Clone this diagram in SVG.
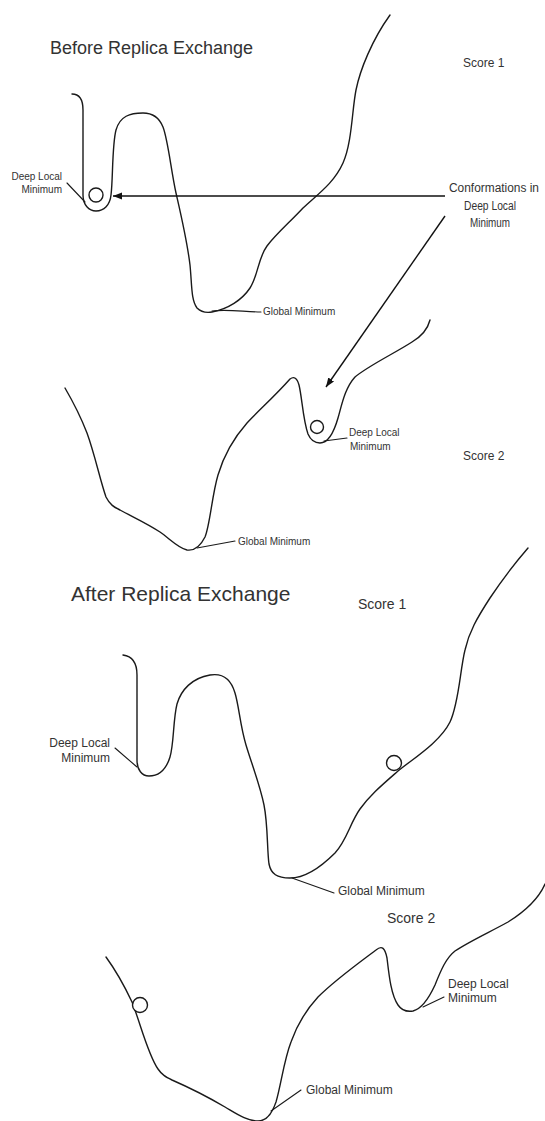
<svg xmlns="http://www.w3.org/2000/svg" width="545" height="1121" viewBox="0 0 545 1121">
<style>
  .curve { fill: none; stroke: #1a1a1a; stroke-width: 1.4; stroke-linecap: round; stroke-linejoin: round; }
  .lead { fill: none; stroke: #1a1a1a; stroke-width: 1.1; stroke-linecap: round; }
  .ball { fill: #fff; stroke: #1a1a1a; stroke-width: 1.4; }
  .conn { fill: none; stroke: #111; stroke-width: 1.4; }
  text { font-family: "Liberation Sans", Arial, sans-serif; fill: #333; }
  .title1 { font-size: 18px; }
  .title2 { font-size: 21px; }
  .s12 { font-size: 12px; }
  .s14 { font-size: 14px; }
  .s10 { font-size: 10px; }
</style>
<defs>
  <marker id="head" markerUnits="userSpaceOnUse" markerWidth="10" markerHeight="8" refX="9" refY="3.5" orient="auto">
    <path d="M0,0 L9,3.5 L0,7 z" fill="#111"/>
  </marker>
</defs>
<rect width="545" height="1121" fill="#fff"/>

<g id="before-title"><text class="title1" x="50" y="54">Before Replica Exchange</text></g>

<g id="before-score1">
  <path class="curve" d="M72,94 C79,94 83,99 83,110 L83,195 C83,205 89,211 96,211 C104,211 110,205 111,195 C113,180 112,145 116,130 C120,116 130,113 143,113 C153,113 159,117 163,127 C168,140 171,170 176,193 C181,215 187,240 190,265 C192,285 191,300 197,308 C201,312 206,313 212,312 C228,309 242,300 250,288 C258,276 258,258 267,246 C276,234 290,222 303,208 C318,194 334,183 343,163 C352,143 352,110 356,90 C360,70 372,40 390,15"/>
  <circle class="ball" cx="96" cy="195" r="7"/>
  <text class="s12" x="463" y="67">Score 1</text>
</g>

<g id="before-score1-deep-local">
  <line class="lead" x1="67" y1="183" x2="85" y2="202"/>
  <text class="s10" x="62" y="180" text-anchor="end">Deep Local</text>
  <text class="s10" x="62" y="193" text-anchor="end">Minimum</text>
</g>

<g id="before-score1-global">
  <path class="lead" d="M212,311 C228,309 245,312 261,312"/>
  <text class="s10" x="263" y="315">Global Minimum</text>
</g>

<g id="conformations-label">
  <text class="s12" x="494" y="192" text-anchor="middle" textLength="90" lengthAdjust="spacingAndGlyphs">Conformations in</text>
  <text class="s12" x="490" y="210" text-anchor="middle" textLength="52" lengthAdjust="spacingAndGlyphs">Deep Local</text>
  <text class="s12" x="490" y="227" text-anchor="middle" textLength="40" lengthAdjust="spacingAndGlyphs">Minimum</text>
</g>

<g id="before-score2">
  <path class="curve" d="M65,388 C72,400 80,415 87,433 C95,455 100,480 106,497 C110,505 114,507 120,510 C135,518 148,524 160,532 C170,539 178,548 187,550 C194,551 200,547 205,537 C210,525 212,495 218,475 C223,458 232,440 247,423 C258,411 275,396 290,379 C294,376 297,378 299,385 C302,397 303,420 308,434 C311,441 315,443 320,443 C328,443 334,432 338,418 C342,404 345,388 355,377 C368,366 395,353 412,342 C422,336 428,328 430,320"/>
  <circle class="ball" cx="317" cy="427" r="6.5"/>
  <text class="s12" x="463" y="460">Score 2</text>
</g>

<g id="before-score2-deep-local">
  <line class="lead" x1="324" y1="441" x2="347" y2="438"/>
  <text class="s10" x="349" y="436">Deep Local</text>
  <text class="s10" x="350" y="450">Minimum</text>
</g>

<g id="before-score2-global">
  <line class="lead" x1="197" y1="548" x2="235" y2="541"/>
  <text class="s10" x="238" y="545">Global Minimum</text>
</g>

<g id="after-title"><text class="title2" x="71" y="601">After Replica Exchange</text></g>

<g id="after-score1">
  <path class="curve" d="M123,655 C131,656 137,662 137,675 L137,760 C137,770 142,776 149,776 C158,776 166,770 170,757 C174,744 173,720 177,704 C181,690 192,678 210,675 C222,673 231,679 235,693 C239,706 240,725 246,745 C252,765 260,785 264,805 C268,825 267,850 269,864 C271,874 277,878 290,878 C305,878 322,866 335,853 C347,840 350,823 360,809 C370,795 382,785 398,771 C414,758 440,742 450,722 C459,703 460,670 465,650 C469,632 477,618 490,598 C502,580 515,563 528,548"/>
  <circle class="ball" cx="394" cy="763" r="7.5"/>
  <text class="s14" x="358" y="609">Score 1</text>
</g>

<g id="after-score1-deep-local">
  <line class="lead" x1="115" y1="748" x2="137" y2="767"/>
  <text class="s12" x="110" y="747" text-anchor="end">Deep Local</text>
  <text class="s12" x="110" y="762" text-anchor="end">Minimum</text>
</g>

<g id="after-score1-global">
  <line class="lead" x1="292" y1="878" x2="334" y2="893"/>
  <text class="s12" x="338" y="895">Global Minimum</text>
</g>

<g id="after-score2">
  <path class="curve" d="M106,957 C114,968 124,985 132,1002 C140,1022 148,1055 158,1069 C162,1075 166,1077 172,1080 C188,1087 208,1097 225,1107 C237,1114 247,1121 258,1121 C266,1121 272,1114 276,1102 C281,1085 284,1060 291,1042 C297,1025 306,1010 318,997 C335,980 360,962 376,950 C382,945 385,948 387,958 C389,975 391,995 398,1005 C402,1011 407,1012 413,1011 C421,1009 429,998 435,985 C441,970 446,958 455,951 C470,941 490,932 508,922 C524,912 538,900 545,884"/>
  <circle class="ball" cx="140" cy="1005" r="7.5"/>
  <text class="s14" x="387" y="923">Score 2</text>
</g>

<g id="after-score2-deep-local">
  <line class="lead" x1="423" y1="1007" x2="444" y2="997"/>
  <text class="s12" x="448" y="988">Deep Local</text>
  <text class="s12" x="448" y="1002">Minimum</text>
</g>

<g id="after-score2-global">
  <line class="lead" x1="271" y1="1111" x2="301" y2="1090"/>
  <text class="s12" x="306" y="1094">Global Minimum</text>
</g>

<g id="connectors">
  <line class="conn" x1="445" y1="196" x2="113" y2="196" marker-end="url(#head)"/>
  <line class="conn" x1="445" y1="216" x2="326" y2="387" marker-end="url(#head)"/>
</g>
</svg>
